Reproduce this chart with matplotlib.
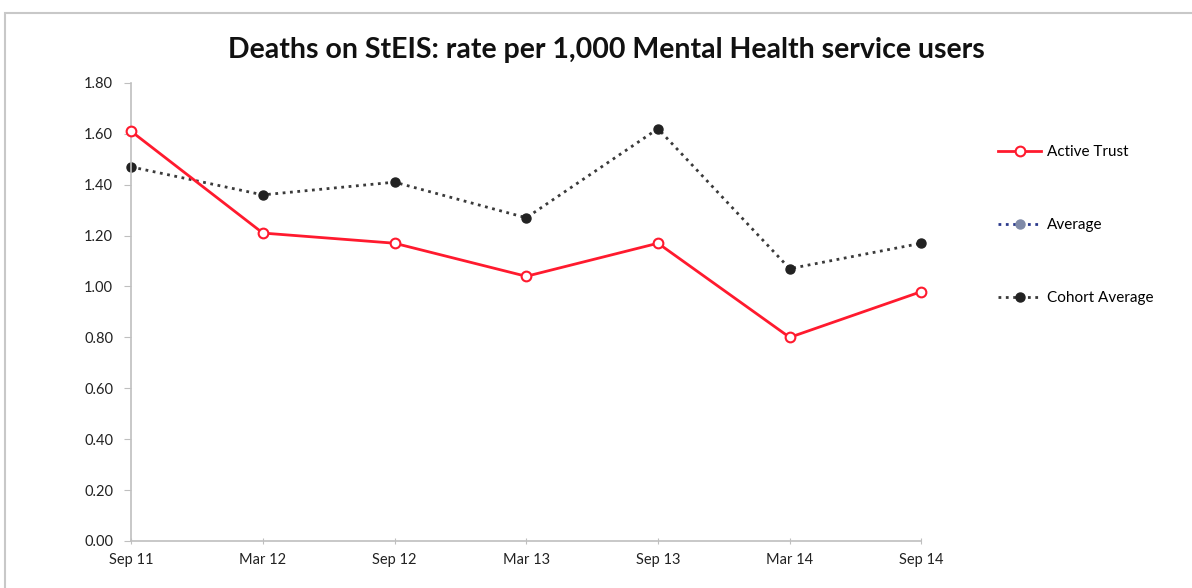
import matplotlib.pyplot as plt
import numpy as np
from matplotlib.patches import Rectangle

# donnees
periodes = ["Sep 11", "Mar 12", "Sep 12", "Mar 13", "Sep 13", "Mar 14", "Sep 14"]
active_trust = [1.61, 1.21, 1.17, 1.04, 1.17, 0.80, 0.98]
average = [np.nan] * 7  # pas de valeurs visibles, seulement dans la legende
cohort_average = [1.47, 1.36, 1.41, 1.27, 1.62, 1.07, 1.17]
y_ticks = [0.0, 0.2, 0.4, 0.6, 0.8, 1.0, 1.2, 1.4, 1.6, 1.8]

plt.rcParams['font.family'] = ['Lato', 'DejaVu Sans']

fig = plt.figure(figsize=(11.92, 5.88), dpi=100)
ax = fig.add_axes([0.110, 0.080, 0.663, 0.779])

# cadre du graphique
fig.patches.append(Rectangle((0.004, -0.01), 1.0, 0.988, transform=fig.transFigure,
                             fill=False, edgecolor='#c8c8c8', linewidth=1.5))

x = np.arange(len(periodes))
ax.plot(x, active_trust, color='#ff1a2e', linewidth=2, marker='o', markersize=7,
        markerfacecolor='white', markeredgecolor='#ff1a2e', markeredgewidth=1.5,
        label='Active Trust', zorder=3)
ax.plot(x, average, color='#2b3a8c', linewidth=2, linestyle=':', marker='o', markersize=6.5,
        markerfacecolor='#7f8aa8', markeredgecolor='#7f8aa8', label='Average')
ax.plot(x, cohort_average, color='#3a3a3a', linewidth=2, linestyle=':', marker='o',
        markersize=6.5, markerfacecolor='#222222', markeredgecolor='#222222',
        label='Cohort Average', zorder=2)

ax.set_xlim(0, len(periodes) - 1)
ax.set_ylim(0, 1.8)
ax.set_xticks(x)
ax.set_xticklabels(periodes)
ax.set_yticks(y_ticks)
ax.set_yticklabels([f"{v:.2f}" for v in y_ticks])

for s in ['top', 'right']:
    ax.spines[s].set_visible(False)
for s in ['left', 'bottom']:
    ax.spines[s].set_color('#bfbfbf')
    ax.spines[s].set_linewidth(1.2)
ax.tick_params(axis='y', colors='#bfbfbf', labelcolor='#222222', labelsize=10.5, length=5, pad=8)
ax.tick_params(axis='x', colors='#bfbfbf', labelcolor='#222222', labelsize=10.5, length=5,
               direction='inout', pad=6)
for l in ax.lines:
    l.set_clip_on(False)

fig.text(0.509, 0.915, "Deaths on StEIS: rate per 1,000 Mental Health service users",
         ha='center', va='center', fontsize=20.5, fontweight='bold', color='#111111')

fig.legend(loc='upper left', bbox_to_anchor=(0.826, 0.776), frameon=False,
           fontsize=11, labelspacing=3.85, handlelength=2.8, handletextpad=0.4)

plt.savefig('out.png', dpi=100)
